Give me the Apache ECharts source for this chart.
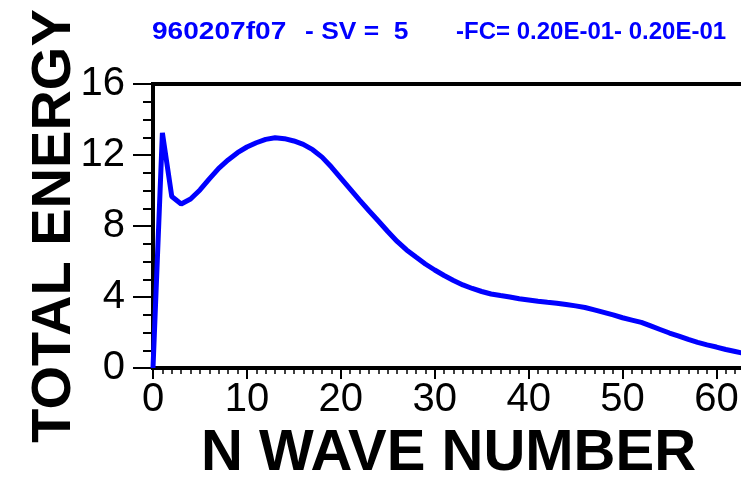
<!DOCTYPE html>
<html>
<head>
<meta charset="utf-8">
<script src="https://cdn.jsdelivr.net/npm/echarts@6/dist/echarts.min.js"></script>
<style>
  html, body { margin: 0; padding: 0; background: #fff; }
  #main { width: 741px; height: 477px; }
</style>
</head>
<body>
<div id="main"></div>
<script>
// wave number n and total energy
var waveN = [0, 1, 2, 3, 4, 5, 6, 7, 8, 9, 10, 11, 12, 13, 14, 15, 16, 17, 18, 19, 20,
  21, 22, 23, 24, 25, 26, 27, 28, 29, 30, 31, 32, 33, 34, 35, 36, 37, 38, 39, 40,
  41, 42, 43, 44, 45, 46, 47, 48, 49, 50, 51, 52, 53, 54, 55, 56, 57, 58, 59, 60,
  61, 62, 63];
var energy = [0, 13.25, 9.66, 9.24, 9.52, 10.03, 10.65, 11.25, 11.72, 12.13, 12.45,
  12.69, 12.88, 12.97, 12.92, 12.79, 12.6, 12.3, 11.88, 11.32, 10.7,
  10.08, 9.46, 8.86, 8.28, 7.69, 7.13, 6.65, 6.25, 5.86, 5.52,
  5.21, 4.93, 4.68, 4.48, 4.31, 4.17, 4.08, 4.0, 3.9, 3.83,
  3.76, 3.7, 3.65, 3.58, 3.5, 3.41, 3.27, 3.13, 2.99, 2.83,
  2.7, 2.57, 2.37, 2.17, 1.97, 1.8, 1.61, 1.44, 1.3, 1.18,
  1.04, 0.93, 0.82];

var runName = '960207f07';
var svText = '- SV =  5';
var fcText = '-FC= 0.20E-01- 0.20E-01';
var xTitle = 'N WAVE NUMBER';
var yTitle = 'TOTAL ENERGY';

var FONT = '"Liberation Sans", Arial, Helvetica, sans-serif';

window.onload = function () {
  var myChart = echarts.init(document.getElementById('main'), null, { renderer: 'canvas' });

  var pts = [];
  for (var i = 0; i < waveN.length; i++) {
    pts.push([waveN[i], energy[i]]);
  }

  var boxLine = { show: true, onZero: false, lineStyle: { color: '#000', width: 4, cap: 'square' } };

  var option = {
    animation: false,
    backgroundColor: '#fff',
    grid: {
      left: 153, top: 84, right: -13, bottom: 109,
      containLabel: false,
      outerBoundsMode: 'none'
    },
    graphic: [
      {
        type: 'text', x: 152, y: 32, scaleX: 1.17,
        style: { text: runName, font: 'bold 24px ' + FONT, fill: '#0000ff', align: 'left', verticalAlign: 'middle' }
      },
      {
        type: 'text', x: 305, y: 32, scaleX: 1.1,
        style: { text: svText, font: 'bold 24px ' + FONT, fill: '#0000ff', align: 'left', verticalAlign: 'middle' }
      },
      {
        type: 'text', x: 456, y: 32,
        style: { text: fcText, font: 'bold 24px ' + FONT, fill: '#0000ff', align: 'left', verticalAlign: 'middle' }
      }
    ],
    xAxis: [{
      type: 'value',
      min: 0, max: 64, interval: 10,
      name: xTitle,
      nameLocation: 'middle',
      nameGap: 57,
      nameMoveOverlap: false,
      nameTextStyle: { fontSize: 58, fontWeight: 'bold', color: '#000', fontFamily: FONT, padding: [0, 10, 0, 0] },
      axisLine: boxLine,
      axisTick: { show: true, inside: false, length: 11, lineStyle: { color: '#000', width: 2 } },
      minorTick: { show: true, splitNumber: 10, length: 6, lineStyle: { color: '#000', width: 1.5 } },
      splitLine: { show: false },
      minorSplitLine: { show: false },
      axisLabel: { fontSize: 40, color: '#000', margin: 12, fontFamily: FONT, showMaxLabel: false }
    }, {
      // top edge of the frame
      type: 'value', position: 'top',
      min: 0, max: 64,
      axisLine: boxLine,
      axisTick: { show: false }, axisLabel: { show: false },
      splitLine: { show: false }
    }],
    yAxis: {
      type: 'value',
      min: 0, max: 16, interval: 4,
      name: yTitle,
      nameLocation: 'middle',
      nameGap: 70,
      nameMoveOverlap: false,
      nameTextStyle: { fontSize: 56, fontWeight: 'bold', color: '#000', fontFamily: FONT },
      axisLine: boxLine,
      axisTick: { show: true, inside: false, length: 20, lineStyle: { color: '#000', width: 2 } },
      minorTick: { show: true, splitNumber: 4, length: 10, lineStyle: { color: '#000', width: 2 } },
      splitLine: { show: false },
      minorSplitLine: { show: false },
      axisLabel: { fontSize: 40, color: '#000', margin: 28, fontFamily: FONT }
    },
    series: [{
      type: 'line',
      data: pts,
      showSymbol: false,
      clip: true,
      lineStyle: { color: '#0000ff', width: 5 },
      itemStyle: { color: '#0000ff' }
    }]
  };

  myChart.setOption(option);
};
</script>
</body>
</html>
